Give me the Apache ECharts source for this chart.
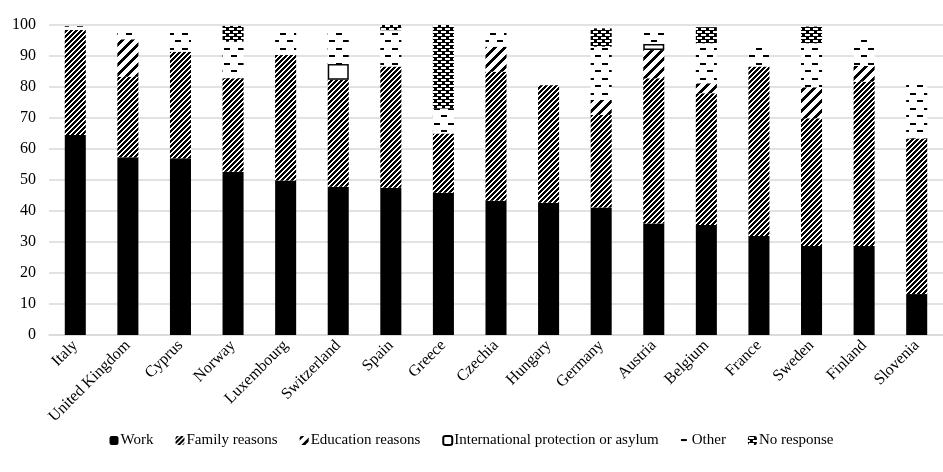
<!DOCTYPE html>
<html>
<head>
<meta charset="utf-8">
<script src="https://cdn.jsdelivr.net/npm/echarts@6/dist/echarts.min.js"></script>
<style>
html,body{margin:0;padding:0;background:#fff;}
#chart{width:943px;height:472px;}
</style>
</head>
<body>
<div id="chart"></div>
<script>
const categories = ['Italy','United Kingdom','Cyprus','Norway','Luxembourg','Switzerland','Spain','Greece','Czechia','Hungary','Germany','Austria','Belgium','France','Sweden','Finland','Slovenia'];
const work      = [64.5, 57.3, 57.0, 52.7, 49.8, 47.8, 47.5, 45.9, 43.3, 42.7, 41.1, 36.0, 35.5, 31.9, 28.7, 28.7, 13.2];
const family    = [33.9, 26.0, 34.4, 30.1, 40.5, 34.5, 39.1, 19.1, 41.6, 37.9, 29.9, 46.8, 42.5, 54.7, 41.2, 53.0, 50.2];
const education = [0, 12.1, 0, 0, 0, 0, 0, 0, 8.1, 0, 4.8, 9.1, 3.2, 0, 10.0, 5.1, 0];
const protection= [0, 0, 0, 0, 0, 5.1, 0, 0, 0, 0, 0, 2.0, 0, 0, 0, 0, 0];
const other     = [1.2, 3.6, 7.6, 11.8, 8.2, 11.9, 11.7, 8.1, 5.6, 0, 17.2, 5.1, 12.9, 6.9, 14.2, 9.1, 17.8];
const noResponse= [0, 0, 0, 5.1, 0, 0, 1.7, 26.9, 0, 0, 5.9, 0, 5.2, 0, 5.4, 0, 0];
const yTicks = [0, 100, 10];

function tile(w, h, bg, fg, draw) {
  const c = document.createElement('canvas');
  c.width = w; c.height = h;
  const ctx = c.getContext('2d');
  ctx.fillStyle = bg; ctx.fillRect(0, 0, w, h);
  ctx.fillStyle = fg;
  draw(ctx, w, h);
  return { image: c, repeat: 'repeat' };
}
function diag(period, thick) {
  return tile(period, period, '#fff', '#000', (ctx) => {
    for (let y = 0; y < period; y++) for (let x = 0; x < period; x++) {
      if ((x + y) % period < thick) ctx.fillRect(x, y, 1, 1);
    }
  });
}
const familyFill = diag(5, 3);
const eduFill = diag(10, 4);
const otherFill = tile(14, 15, '#fff', '#000', (ctx) => {
  ctx.fillRect(0, 3, 6, 2);
  ctx.fillRect(7, 10, 6, 2);
});
const noRespFill = tile(8, 6, '#000', '#fff', (ctx) => {
  ctx.fillRect(1, 1, 5, 2);
  ctx.fillRect(5, 4, 3, 2);
  ctx.fillRect(0, 4, 2, 2);
});

const clean = a => a.map(v => v === 0 ? '-' : v);
const font = 'Liberation Serif';

function mk(name, data, color, extra) {
  return {
    name, type: 'bar', stack: 'total', barWidth: '40%',
    data: clean(data),
    itemStyle: Object.assign({ color }, extra || {}),
    emphasis: { disabled: true }
  };
}

const chart = echarts.init(document.getElementById('chart'), null, { renderer: 'canvas' });
chart.setOption({
  animation: false,
  backgroundColor: '#fff',
  textStyle: { fontFamily: font, color: '#000' },
  grid: { left: 49, top: 25, width: 903, height: 310, containLabel: false },
  legend: {
    left: 'center', top: 428,
    itemWidth: 9, itemHeight: 9, itemGap: 22,
    textStyle: { fontFamily: font, fontSize: 15, color: '#000', padding: [0, 0, 0, -3] },
    data: ['Work', 'Family reasons', 'Education reasons', 'International protection or asylum', 'Other', 'No response']
  },
  xAxis: {
    type: 'category', data: categories,
    axisTick: { show: false },
    axisLine: { lineStyle: { color: '#d9d9d9', width: 1.5 } },
    axisLabel: { rotate: 45, interval: 0, fontSize: 16, color: '#000', fontFamily: font, margin: 8 }
  },
  yAxis: {
    type: 'value', min: yTicks[0], max: yTicks[1], interval: yTicks[2],
    axisLine: { show: false }, axisTick: { show: false },
    splitLine: { lineStyle: { color: '#d9d9d9', width: 1.5 } },
    axisLabel: { fontSize: 16, color: '#000', fontFamily: font, margin: 13 }
  },
  series: [
    mk('Work', work, '#000'),
    mk('Family reasons', family, familyFill),
    mk('Education reasons', education, eduFill),
    mk('International protection or asylum', protection, '#fff', { borderColor: '#000', borderWidth: 1.5 }),
    mk('Other', other, otherFill),
    mk('No response', noResponse, noRespFill)
  ]
});
</script>
</body>
</html>
